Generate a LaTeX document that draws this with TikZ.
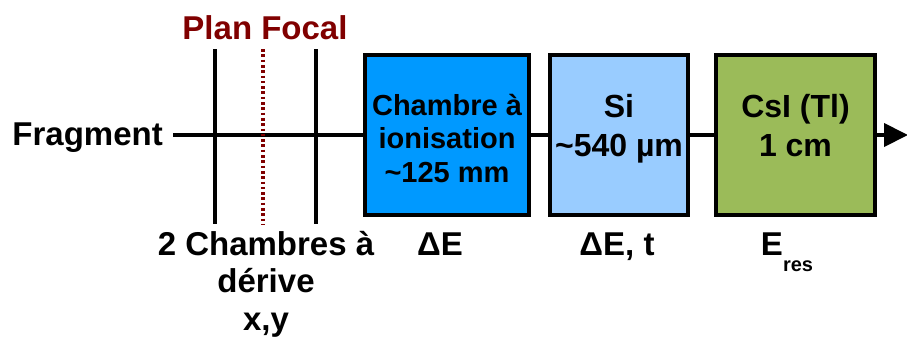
\documentclass[tikz,border=0pt]{standalone}
\usepackage{fontspec}
\setmainfont{Liberation Sans}
\usetikzlibrary{arrows.meta}
\definecolor{darkred}{RGB}{128,0,0}
\definecolor{ionblue}{RGB}{0,153,255}
\definecolor{siblue}{RGB}{153,204,255}
\definecolor{csigreen}{RGB}{155,187,89}
\begin{document}
\begin{tikzpicture}[x=1pt,y=-1pt,
  thick line/.style={line width=4pt,black},
  box/.style={draw=black,line width=4pt,inner sep=0pt,minimum height=160pt},
  bigtxt/.style={font=\bfseries\fontsize{33}{37.5}\selectfont,align=center,inner sep=0pt,anchor=base},
  boxtxtA/.style={font=\bfseries\fontsize{29}{33.5}\selectfont,align=center,inner sep=0pt,anchor=base},
  boxtxtB/.style={font=\bfseries\fontsize{32}{39}\selectfont,align=center,inner sep=0pt,anchor=base},
  focal/.style={darkred,line width=4pt,dash pattern=on 2.6pt off 2.7pt}]
\useasboundingbox (0,0) rectangle (907,338);
% boxes
\node[box,fill=ionblue,minimum width=164pt] (c1) at (447,135) {};
\node[box,fill=siblue,minimum width=138pt] (c2) at (619,135) {};
\node[box,fill=csigreen,minimum width=159.5pt] (c3) at (795.5,135) {};
% box texts (base anchor = last line baseline)
\node[boxtxtA] (t1) at (447,182) {Chambre à\\ionisation\\\textasciitilde125 mm};
\node[boxtxtB] (t2) at (619,156) {Si\\\textasciitilde540 µm};
\node[boxtxtB] (t3) at (795.5,156) {CsI (Tl)\\1 cm};
% fragment label and beam line
\node[bigtxt,anchor=base east] (frag) at (163,145) {Fragment};
\coordinate (start) at (173,135);
\coordinate (end) at (908,135);
\draw[thick line] (start) -- (c1.west);
\draw[thick line] (c1.east) -- (c2.west);
\draw[thick line] (c2.east) -- (c3.west);
\draw[thick line,-{Triangle[length=24pt,width=23pt]}] (c3.east) -- (end);
% drift chambers
\coordinate (d1t) at (215,49); \coordinate (d1b) at (215,224);
\coordinate (d2t) at (316,49); \coordinate (d2b) at (316,224);
\coordinate (ft) at (263,49); \coordinate (fb) at (263,224);
\draw[thick line] (d1t) -- (d1b);
\draw[thick line] (d2t) -- (d2b);
\draw[focal] (ft) -- (fb);
\node[bigtxt,text=darkred] (plan) at (265,39) {Plan Focal};
% bottom labels
\node[bigtxt] (drift) at (266,330) {2 Chambres à\\dérive\\x,y};
\node[bigtxt] (de1) at (440,255) {ΔE};
\node[bigtxt] (de2) at (617,255) {ΔE, t};
\node[bigtxt] (eres) at (787,255) {E\raisebox{-16pt}{\fontsize{20}{20}\selectfont res}};
\end{tikzpicture}
\end{document}
